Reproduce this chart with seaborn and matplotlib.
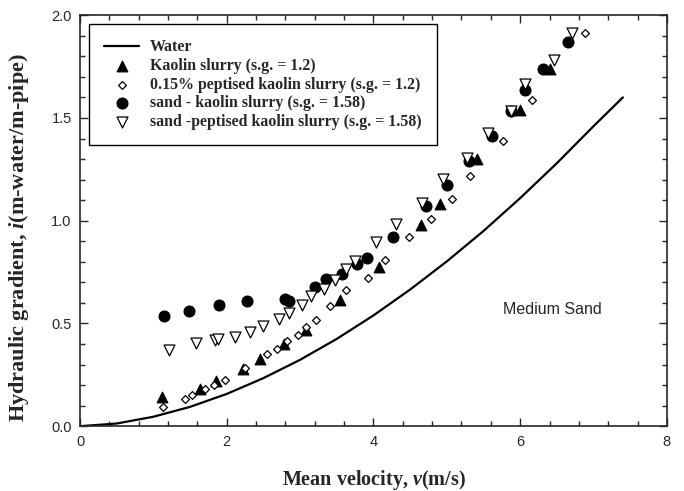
import numpy as np
import pandas as pd
import seaborn as sns
import matplotlib.pyplot as plt
from matplotlib.ticker import MultipleLocator, FormatStrFormatter

# water line
water_v = [0, 0.5, 1.0, 1.5, 2.0, 2.5, 3.0, 3.5, 4.0, 4.5, 5.0, 5.5, 6.0, 6.5, 7.0, 7.4]
water_i = [0, 0.013, 0.046, 0.094, 0.157, 0.234, 0.323, 0.425, 0.539, 0.665,
           0.802, 0.950, 1.11, 1.28, 1.46, 1.60]

# kaolin slurry (s.g. = 1.2)
kao_v = [1.12, 1.63, 1.85, 2.22, 2.46, 2.78, 3.08, 3.54, 4.08, 4.65, 4.91, 5.41, 6.00, 6.40]
kao_i = [0.14, 0.18, 0.22, 0.276, 0.325, 0.398, 0.467, 0.613, 0.775, 0.978, 1.08, 1.298, 1.54, 1.74]

# 0.15% peptised kaolin slurry (s.g. = 1.2)
pep_v = [1.135, 1.43, 1.53, 1.70, 1.83, 1.98, 2.25, 2.55, 2.69, 2.82, 2.97, 3.08, 3.22,
         3.41, 3.63, 3.92, 4.16, 4.48, 4.78, 5.07, 5.31, 5.77, 6.16, 6.89]
pep_i = [0.094, 0.131, 0.151, 0.18, 0.20, 0.227, 0.281, 0.349, 0.375, 0.415, 0.443, 0.483,
         0.519, 0.584, 0.662, 0.72, 0.808, 0.921, 1.01, 1.108, 1.217, 1.388, 1.588, 1.915]

# sand - kaolin slurry (s.g. = 1.58)
sk_v = [1.15, 1.485, 1.90, 2.28, 2.80, 2.85, 3.20, 3.35, 3.57, 3.78, 3.91, 4.27, 4.71,
        5.00, 5.30, 5.61, 5.87, 6.06, 6.31, 6.65]
sk_i = [0.534, 0.563, 0.591, 0.607, 0.62, 0.608, 0.676, 0.714, 0.743, 0.79, 0.818, 0.919,
        1.073, 1.175, 1.29, 1.41, 1.535, 1.636, 1.736, 1.87]

# sand - peptised kaolin slurry (s.g. = 1.58)
sp_v = [1.21, 1.58, 1.84, 1.88, 2.11, 2.32, 2.50, 2.71, 2.85, 3.02, 3.15, 3.32, 3.47, 3.62,
        3.75, 4.04, 4.31, 4.66, 4.95, 5.28, 5.56, 5.88, 6.06, 6.46, 6.71]
sp_i = [0.37, 0.405, 0.418, 0.423, 0.435, 0.459, 0.49, 0.524, 0.551, 0.589, 0.633, 0.67,
        0.71, 0.764, 0.803, 0.894, 0.986, 1.087, 1.205, 1.303, 1.427, 1.534, 1.663, 1.78, 1.914]

sns.set_style('ticks')
plt.rcParams['font.family'] = ['Liberation Sans', 'DejaVu Sans']
plt.rcParams['mathtext.fontset'] = 'custom'
plt.rcParams['mathtext.rm'] = 'Liberation Serif:bold'
plt.rcParams['mathtext.it'] = 'Liberation Serif:italic:bold'

fig, ax = plt.subplots(figsize=(6.84, 4.91), dpi=100)
fig.subplots_adjust(left=0.117, right=0.975, top=0.969, bottom=0.132)

sns.lineplot(x=water_v, y=water_i, color='black', linewidth=1.6, label='Water', ax=ax)
sns.scatterplot(x=kao_v, y=kao_i, marker='^', s=60, color='black', edgecolor='black',
                linewidth=0.8, label='Kaolin slurry (s.g. = 1.2)', ax=ax, zorder=3)
sns.scatterplot(x=pep_v, y=pep_i, marker='D', s=16, color='white', edgecolor='black',
                linewidth=0.9, label='0.15% peptised kaolin slurry (s.g. = 1.2)', ax=ax, zorder=4)
sns.scatterplot(x=sk_v, y=sk_i, marker='o', s=62, color='black', edgecolor='black',
                linewidth=0.8, label='sand - kaolin slurry (s.g. = 1.58)', ax=ax, zorder=5)
sns.scatterplot(x=sp_v, y=sp_i, marker='v', s=62, color='white', edgecolor='black',
                linewidth=0.9, label='sand -peptised kaolin slurry (s.g. = 1.58)', ax=ax, zorder=6)

ax.text(5.76, 0.57, 'Medium Sand', fontsize=11.5, va='center', ha='left')

ax.set_xlim(0, 8)
ax.set_ylim(0, 2.0)
ax.xaxis.set_major_locator(MultipleLocator(2))
ax.xaxis.set_minor_locator(MultipleLocator(0.4))
ax.yaxis.set_major_locator(MultipleLocator(0.5))
ax.yaxis.set_minor_locator(MultipleLocator(0.1))
ax.yaxis.set_major_formatter(FormatStrFormatter('%.1f'))
ax.tick_params(which='both', direction='in', top=True, right=True, width=1, labelsize=10.5)
ax.tick_params(which='major', length=6, pad=6)
ax.tick_params(which='minor', length=3.5)
for sp in ax.spines.values():
    sp.set_linewidth(1.2)
    sp.set_visible(True)

ax.set_xlabel(r'Mean velocity, $v$(m/s)', family='Liberation Serif', fontweight='bold',
              fontsize=14.5, labelpad=14)
ax.set_ylabel(r'Hydraulic gradient, $i$(m-water/m-pipe)', family='Liberation Serif',
              fontweight='bold', fontsize=16)
ax.yaxis.set_label_coords(-0.083, 0.46)

leg = ax.legend(loc='upper left', bbox_to_anchor=(0.015, 0.978), borderaxespad=0,
                fancybox=False, edgecolor='black', framealpha=1, handlelength=2.25,
                handletextpad=0.66, borderpad=0.95, labelspacing=0.17,
                prop={'family': 'Liberation Serif', 'weight': 'bold', 'size': 11.4})
leg.get_frame().set_linewidth(1.0)

fig.savefig('out.png', dpi=100)
